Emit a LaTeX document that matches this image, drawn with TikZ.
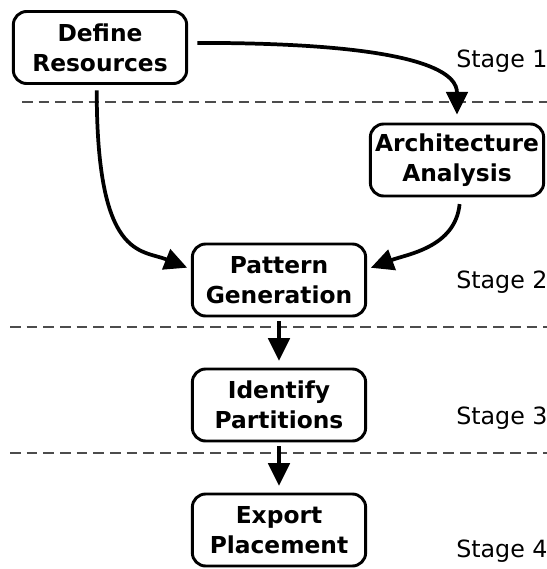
\documentclass[tikz,border=0pt]{standalone}
\usepackage{fontspec}
\setmainfont{DejaVu Sans}
\usetikzlibrary{arrows.meta}

\begin{document}
\begin{tikzpicture}[x=0.75pt,y=-0.75pt,
  box/.style={draw,line width=2.2pt,rounded corners=10pt,minimum width=130pt,minimum height=54pt,align=center,inner sep=0pt,font=\fontsize{17.5}{22.5}\selectfont\bfseries},
  flow/.style={line width=2.8pt,-{Triangle[length=17pt,width=16pt]}},
  stage/.style={anchor=base west,inner sep=0pt,font=\fontsize{17.8}{20}\selectfont},
  sep/.style={line width=1.8pt,black!70,dash pattern=on 8pt off 4.5pt}]
  \useasboundingbox (0,0) rectangle (547,569);
  \draw[sep] (22,102) -- (547,102);
  \draw[sep] (10,327) -- (547,327);
  \draw[sep] (10,453) -- (547,453);
  \node[box] (dr) at (100,47.5) {Define\\Resources};
  \node[box] (aa) at (457,160) {Architecture\\Analysis};
  \node[box] (pg) at (279,280) {Pattern\\Generation};
  \node[box] (ip) at (279,405) {Identify\\Partitions};
  \node[box] (ep) at (279,530) {Export\\Placement};
  \node[stage] (s1) at (456,67) {Stage 1};
  \node[stage] (s2) at (456,288) {Stage 2};
  \node[stage] (s3) at (456,424) {Stage 3};
  \node[stage] (s4) at (456,557) {Stage 4};
  \draw[flow,shorten <=7pt,shorten >=6pt] (dr.3) .. controls +(250,0) and +(0,-45) .. (aa.north);
  \draw[flow,shorten <=4pt,shorten >=3pt] (dr.-95) .. controls +(0,175) and +(-50,-20) .. (pg.173);
  \draw[flow,shorten <=5pt,shorten >=3pt] (aa.-85) .. controls +(-5,50) and +(40,-15) .. (pg.7);
  \draw[flow,shorten <=3pt,shorten >=5pt] (pg.south) -- (ip.north);
  \draw[flow,shorten <=3pt,shorten >=5pt] (ip.south) -- (ep.north);
\end{tikzpicture}
\end{document}
